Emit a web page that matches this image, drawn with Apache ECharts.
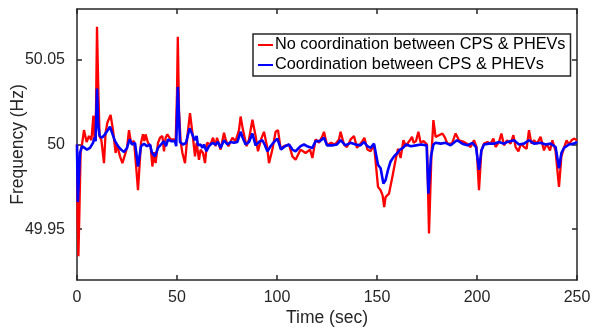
<!DOCTYPE html>
<html>
<head>
<meta charset="utf-8">
<script src="https://cdn.jsdelivr.net/npm/echarts@6/dist/echarts.min.js"></script>
<style>html,body{margin:0;padding:0;background:#fff;}#c{width:595px;height:329px;}</style>
</head>
<body>
<div id="c"></div>
<script>
// Time (sec) and frequency (Hz) readings
var timeRed = [0,0.3,0.7,1.2,1.8,2.5,3.5,4.8,6,7.2,8.2,8.8,9.5,10,10.7,11.3,12.2,13.5,14.3,15.2,16.8,18,19.3,20,21.5,22.7,24,25,26,27,28.5,29.3,30.5,31.3,32,33,33.7,34.3,35.5,36.8,37.7,38.5,39.3,40.5,41.5,42.7,43.5,44.3,45.2,46.8,48.5,49.3,50,50.4,51,51.8,52.7,54,55.2,56.5,57.7,59,59.8,61,61.8,63,64,65,66.8,68,69.3,70,71.8,73.5,74.3,75.7,77.7,79.3,81,81.8,83,84.8,86,87.7,89.3,90.5,92,93.5,95,96,97.7,99.3,100.5,101.8,103.5,106,107.7,109.3,111.8,114.3,116.5,117.7,119.3,121,122.7,123.5,125,127,129,131,131.8,133.5,135,136.8,138.5,140,142.7,143.7,145.2,146.8,148.5,149.5,150.5,151.8,152.8,153.6,154.3,156,157.7,159.3,160.5,161.8,163.2,164.5,165.5,166.5,167.5,168.3,169.5,170.7,171.8,173.3,175,176,177.2,178.2,179.3,181,182.7,184,185.2,187.5,189.3,191,193.5,195,196.8,198.5,199.8,201,202.2,203.5,205.2,206.8,208.2,209.3,211,212.2,213.5,215,216.8,218.2,219.3,220.7,222,223.5,224.8,226,227.2,228.5,230,231.8,233.5,234.8,236.5,237.7,239.3,241,242.2,243.5,244.8,246,247.3,248.5,249.3,250];
var freqRed = [50.0,49.955,49.934,49.96,49.995,50.0,50.0085,50.0015,50.005,50.0025,50.017,50.002,50.02,50.0695,50.03,50.005,50.0025,49.989,50.007,50.013,50.0174,50.0085,49.995,50.0,49.993,49.989,49.994,49.998,50.0085,50.001,50.002,49.991,49.973,49.988,50.001,50.006,50.002,50.006,50.001,49.999,49.987,49.9955,49.989,50.001,50.004,50.005,49.996,50.004,50.006,50.003,50.003,50.001,50.03,50.0636,50.02,50.002,49.995,49.989,50.005,50.0185,50.007,49.993,50.001,49.991,49.997,49.995,49.989,50.001,50.0,50.004,49.999,50.004,49.997,50.007,50.003,49.999,50.004,50.002,50.0085,50.0165,50.0085,49.999,50.003,50.0146,50.005,49.996,50.003,50.0075,49.999,49.989,49.997,50.0075,50.0085,49.9977,49.999,50.0,49.993,49.991,49.997,49.995,49.997,49.992,50.003,50.001,50.005,50.0075,49.9995,50.001,50.0,50.003,50.0075,50.0,49.9985,50.003,50.005,49.998,50.002,50.004,49.997,49.996,50.0,50.001,49.975,49.973,49.97,49.963,49.969,49.971,49.981,49.991,49.9975,49.992,50.0025,49.999,50.001,50.0025,50.0045,50.001,50.002,50.0075,50.001,50.002,50.0,49.9475,49.993,50.0144,50.0045,50.0055,50.0065,50.004,50.0005,50.0005,50.0065,50.0025,50.0015,50.0005,49.9985,50.0025,49.9985,49.973,49.9965,50.0005,50.0015,50.0005,50.0035,49.9985,50.0015,50.0065,49.9995,50.0025,50.0005,50.0055,49.9985,49.996,50.0005,49.9985,49.9975,50.0085,50.0005,50.0025,50.0005,50.0045,49.9965,50.0005,49.9965,50.0025,49.996,49.975,49.993,49.998,50.0025,50.0,50.0025,50.0035,50.0045,50.0025];
var timeBlue = [0,0.4,1.5,2.5,3.5,5,6.5,8,8.8,9.3,10,10.6,11.3,12.5,14,16.5,17.5,19,20.5,22,23.5,25,26.3,27.5,29,30.5,32,33.5,35,36.5,37.5,39,40.5,42,43.5,44.5,45.5,47,49,49.6,50.4,51.5,53,54.5,56.3,57.5,58.8,59.8,60.5,61.8,62.7,63.5,64.7,66,67.7,69.3,70.5,71.8,73.5,75.2,76.8,78.5,80.2,81.8,83,84.3,86,87.7,89.3,91,92.7,93.8,95.2,96.8,98.5,100.2,101,102,104,106,107.7,109.3,111.8,113.5,115,117.7,119.3,121.5,123.5,125,127.5,130,131.8,134.2,136.8,139.3,141.7,143.5,145.2,146.8,148.5,149.5,150.5,151.8,153.2,154.3,155.5,156.8,158.5,160.2,161.5,163,164.5,167,169.5,172,174.8,175.7,177,178.2,179.3,181.8,184.3,186.8,190,192.7,195.2,197.7,199.5,201,202.2,203.5,206,208.5,211,213.5,215.2,218.5,221,223.5,226,228.5,231.8,234.3,236.8,239.3,241,242.2,243.5,246,248.5,250];
var freqBlue = [50.0,49.966,49.995,49.999,50.0,49.997,49.998,50.001,50.004,50.002,50.033,50.012,50.005,50.004,50.006,50.0105,50.007,50.002,49.999,49.997,49.9955,49.998,50.003,50.0,50.001,49.987,49.999,50.0005,49.999,50.0,49.995,49.993,49.998,50.0,50.002,49.999,50.003,50.002,50.002,49.999,50.034,50.0015,50.0,50.001,50.0095,50.0065,50.0025,50.005,49.9995,50.0,49.998,50.0,49.996,49.999,50.001,50.0,50.0015,49.998,50.0025,50.0,50.0015,50.001,50.0015,50.0075,50.0035,50.0,50.0015,50.0065,49.9995,50.0015,50.0025,50.0,49.996,49.999,50.0015,50.0035,50.0036,49.997,49.999,50.0,49.997,49.996,49.999,50.0,49.999,49.998,50.002,50.002,50.004,49.9995,49.9995,50.0,50.0026,49.9995,50.001,50.0,49.9995,50.0015,49.999,49.998,50.0005,50.001,49.988,49.986,49.977,49.979,49.985,49.99,49.993,49.995,49.997,49.998,50.0,49.999,49.9995,50.0,49.9995,49.971,49.993,50.0,50.001,50.0005,50.001,49.9995,50.0025,50.0005,49.9995,50.001,49.9985,49.985,49.9965,50.0,50.0005,50.0005,50.0015,50.0005,50.0015,50.0025,50.0,50.0005,50.0025,50.0005,50.001,50.0,50.0005,49.9985,49.986,49.995,49.998,50.0,50.0005,50.0015];
var xTicks = [0,50,100,150,200,250];
var yTicks = [49.95,50,50.05];
var seriesNames = ['No coordination between CPS & PHEVs','Coordination between CPS & PHEVs'];

function pairs(t, v){ return t.map(function(x,i){ return [x, v[i]]; }); }

var FONT = 'Liberation Sans, Arial, Helvetica, sans-serif';
var AX = '#262626';
var chart = echarts.init(document.getElementById('c'), null, {renderer:'canvas'});
var yLab = function(v){ return (Math.round(v*100)/100).toString(); };
chart.setOption({
  animation:false,
  backgroundColor:'#fff',
  grid:{left:77,right:18,top:9,bottom:49,containLabel:false,outerBoundsMode:'none'},
  legend:{
    orient:'vertical', left:253, top:34,
    data:seriesNames.map(function(n){return {name:n, icon:'rect'};}),
    itemWidth:15, itemHeight:2, itemGap:4,
    padding:[3,5,3,5],
    borderColor:AX, borderWidth:1.5, backgroundColor:'#fff',
    textStyle:{fontFamily:FONT,fontSize:16.3,color:'#000',padding:[0,0,0,-3]}
  },
  xAxis:[{
    type:'value', min:0, max:250, interval:50,
    name:'Time (sec)', nameLocation:'middle', nameGap:29, nameMoveOverlap:false,
    nameTextStyle:{fontFamily:FONT,fontSize:17.5,color:AX},
    axisLine:{show:true,onZero:false,lineStyle:{color:AX,width:1.5}},
    axisTick:{show:true,inside:true,length:5,lineStyle:{color:AX,width:1.5}},
    axisLabel:{fontFamily:FONT,fontSize:16,color:AX,margin:10},
    splitLine:{show:false}
  },{
    type:'value', position:'top', min:0, max:250, interval:50,
    axisLine:{show:true,onZero:false,lineStyle:{color:AX,width:1.5}},
    axisTick:{show:true,inside:true,length:5,lineStyle:{color:AX,width:1.5}},
    axisLabel:{show:false}, splitLine:{show:false}
  }],
  yAxis:[{
    type:'value', min:49.92, max:50.08,
    name:'Frequency (Hz)', nameLocation:'middle', nameGap:50, nameMoveOverlap:false,
    nameTextStyle:{fontFamily:FONT,fontSize:17.5,color:AX},
    axisLine:{show:true,onZero:false,lineStyle:{color:AX,width:1.5}},
    axisTick:{show:true,inside:true,length:5,customValues:yTicks,lineStyle:{color:AX,width:1.5}},
    axisLabel:{fontFamily:FONT,fontSize:16,color:AX,margin:12,customValues:yTicks,formatter:yLab},
    splitLine:{show:false}
  },{
    type:'value', position:'right', min:49.92, max:50.08,
    axisLine:{show:true,onZero:false,lineStyle:{color:AX,width:1.5}},
    axisTick:{show:true,inside:true,length:5,customValues:yTicks,lineStyle:{color:AX,width:1.5}},
    axisLabel:{show:false,customValues:yTicks}, splitLine:{show:false}
  }],
  series:[{
    name:seriesNames[0], type:'line', data:pairs(timeRed,freqRed),
    showSymbol:false, symbol:'none', color:'#ff0000',
    lineStyle:{color:'#ff0000',width:2.3}, z:2
  },{
    name:seriesNames[1], type:'line', data:pairs(timeBlue,freqBlue),
    showSymbol:false, symbol:'none', color:'#0000ff',
    lineStyle:{color:'#0000ff',width:2.6}, z:3
  }]
});
</script>
</body>
</html>
